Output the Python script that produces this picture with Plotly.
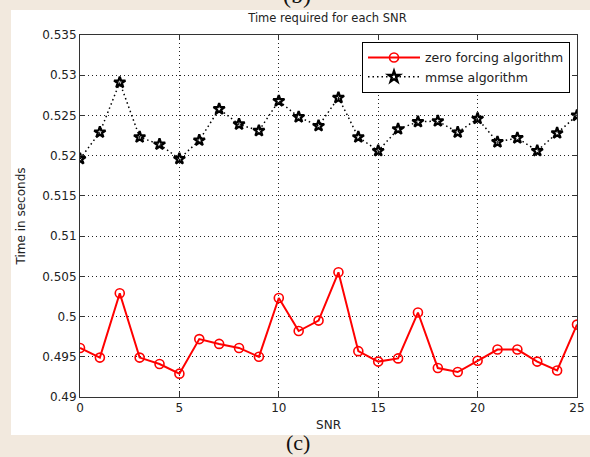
import plotly.graph_objects as go

# SNR values (dB) and measured run times (s)
snr = list(range(0, 26))
zf_time = [0.4961, 0.4949, 0.5029, 0.4949, 0.4941, 0.4929, 0.4972, 0.4966,
           0.4961, 0.4950, 0.5023, 0.4982, 0.4995, 0.5055, 0.4957, 0.4944,
           0.4948, 0.5005, 0.4936, 0.4931, 0.4945, 0.4959, 0.4959, 0.4944,
           0.4933, 0.4990]
mmse_time = [0.5196, 0.5229, 0.5291, 0.5223, 0.5214, 0.5196, 0.5219, 0.5258,
             0.5239, 0.5231, 0.5268, 0.5248, 0.5237, 0.5272, 0.5223, 0.5206,
             0.5233, 0.5242, 0.5243, 0.5229, 0.5246, 0.5217, 0.5222, 0.5206,
             0.5228, 0.5250]
y_ticks = [0.49, 0.495, 0.5, 0.505, 0.51, 0.515, 0.52, 0.525, 0.53, 0.535]
y_tick_text = ["0.49", "0.495", "0.5", "0.505", "0.51", "0.515", "0.52",
               "0.525", "0.53", "0.535"]
x_ticks = [0, 5, 10, 15, 20, 25]

FONT = "DejaVu Sans"

fig = go.Figure()
fig.add_trace(go.Scatter(
    x=snr, y=zf_time, mode="lines+markers", name="zero forcing algorithm",
    line=dict(color="#ff0000", width=2),
    marker=dict(symbol="circle-open", size=9, color="#ff0000",
                line=dict(width=1.6, color="#ff0000")),
))
fig.add_trace(go.Scatter(
    x=snr, y=mmse_time, mode="lines+markers", name="mmse algorithm",
    line=dict(color="#000000", width=1.5, dash="1.5px,3px"),
    marker=dict(symbol="star-open", size=8.5, color="#000000",
                line=dict(width=2.2, color="#000000")),
))

axis_common = dict(
    showline=True, linecolor="#333333", linewidth=1, mirror="ticks",
    ticks="inside", ticklen=5, tickcolor="#333333",
    showgrid=True, gridcolor="#222222", gridwidth=1, griddash="1px,3px",
    zeroline=False, automargin=False,
    tickfont=dict(family=FONT, size=12, color="#222222"),
)

fig.update_layout(
    width=590, height=457,
    margin=dict(l=80, r=13, t=35, b=60),
    paper_bgcolor="#f2e9de", plot_bgcolor="#ffffff",
    font=dict(family=FONT, size=12, color="#222222"),
    title=dict(text="Time required for each SNR", x=0.555, xanchor="center",
               y=1 - 18 / 457, yanchor="middle",
               font=dict(family=FONT, size=11.5, color="#222222")),
    xaxis=dict(range=[0, 25], tickvals=x_ticks,
               title=dict(text="SNR", standoff=6,
                          font=dict(family=FONT, size=12, color="#222222")),
               **axis_common),
    yaxis=dict(range=[0.49, 0.535], tickvals=y_ticks, ticktext=y_tick_text,
               title=dict(text="Time in seconds", standoff=14,
                          font=dict(family=FONT, size=12, color="#222222")),
               **axis_common),
    legend=dict(x=(570 - 80) / 497, y=0.981, xanchor="right", yanchor="top",
                bgcolor="#ffffff", bordercolor="#000000", borderwidth=1,
                font=dict(family=FONT, size=12.5, color="#222222"),
                itemwidth=52, tracegroupgap=0),
    showlegend=True,
)

# White figure panel behind the axes
fig.add_shape(type="rect", xref="paper", yref="paper",
              x0=(11 - 80) / 497, x1=(590 - 80) / 497,
              y0=(397 - 435) / 362, y1=(397 - 10) / 362,
              fillcolor="#ffffff", line=dict(width=0), layer="below")

# Sub-figure captions
fig.add_annotation(text="(b)", xref="paper", yref="paper",
                   x=(297 - 80) / 497, y=(397 - 10) / 362,
                   xanchor="center", yanchor="bottom", showarrow=False,
                   font=dict(family="Liberation Serif", size=24, color="#111111"))
fig.add_annotation(text="(c)", xref="paper", yref="paper",
                   x=(298 - 80) / 497, y=(397 - 428) / 362,
                   xanchor="center", yanchor="top", showarrow=False,
                   font=dict(family="Liberation Serif", size=22, color="#111111"))

fig.write_html("out.html")
